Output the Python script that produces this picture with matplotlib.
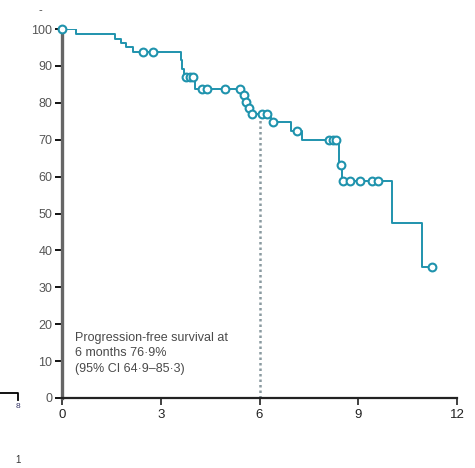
import numpy as np
import matplotlib
matplotlib.use("Agg")
import matplotlib.pyplot as plt
from matplotlib.lines import Line2D

plt.rcParams['font.family'] = ['Liberation Sans Narrow', 'Liberation Sans', 'DejaVu Sans']

# Kaplan-Meier step data (months, % progression-free)
event_times = [0, 0.43, 1.6, 1.8, 1.95, 2.15, 3.6, 3.66, 3.72, 4.05,
               5.5, 5.58, 5.66, 5.75, 6.35, 6.95, 7.3, 8.4, 8.5, 10.03, 10.94]
event_surv = [100, 98.6, 97.4, 96.2, 95.0, 93.8, 91.5, 89.2, 87.0, 83.7,
              82.0, 80.3, 78.6, 76.9, 74.8, 72.4, 69.9, 63.1, 58.8, 47.4, 35.5]
end_time = 11.3
censor_times = [0, 2.46, 2.77, 3.78, 3.88, 3.97, 4.25, 4.4, 4.95, 5.41,
                5.52, 5.6, 5.68, 5.78, 6.08, 6.23, 6.41, 7.14,
                8.12, 8.22, 8.32, 8.47, 8.55, 8.75, 9.06, 9.42, 9.6, 11.25]

x_ticks = [0, 3, 6, 9, 12]
y_ticks = [0, 10, 20, 30, 40, 50, 60, 70, 80, 90, 100]
landmark_time = 6
landmark_value = 76.9
annotation = "Progression-free survival at\n6 months 76·9%\n(95% CI 64·9–85·3)"

color = '#1f93ad'

fig = plt.figure(figsize=(4.75, 4.68), dpi=100)
ax = fig.add_axes([62/475, 70/468, (457-62)/475, (398-29)/468])

t_plot = list(event_times) + [end_time]
s_plot = list(event_surv) + [event_surv[-1]]
ax.step(t_plot, s_plot, where='post', color=color, lw=1.4, zorder=3)

idx = np.searchsorted(event_times, censor_times, side='right') - 1
censor_surv = [event_surv[i] for i in idx]
ax.plot(censor_times, censor_surv, 'o', ms=5.6, mfc='white', mec=color, mew=1.5,
        zorder=4, clip_on=False)

ax.plot([landmark_time, landmark_time], [0, landmark_value - 1.5], ls=(0, (1, 1.2)),
        color='#8a9aa0', lw=1.8, zorder=2)

ax.set_xlim(0, 12)
ax.set_ylim(0, 100)
ax.set_xticks(x_ticks)
ax.set_yticks(y_ticks)
ax.tick_params(axis='y', length=5, width=1.3, colors='black', labelcolor='#555555',
               labelsize=9, pad=2)
ax.tick_params(axis='x', length=5, width=1.3, colors='#333333', labelcolor='#222222',
               labelsize=9.5, pad=3)
for s in ['top', 'right']:
    ax.spines[s].set_visible(False)
ax.spines['left'].set_color('#666666')
ax.spines['left'].set_linewidth(2.4)
ax.spines['bottom'].set_color('#222222')
ax.spines['bottom'].set_linewidth(1.6)

ax.text(0.38, 18.0, annotation, fontsize=9, color='#4a4a4a', va='top', ha='left',
        linespacing=1.4)

# stray cropping artefacts
fig.add_artist(Line2D([0, 18/475, 18/475], [1-393/468, 1-393/468, 1-400/468],
                      color='black', lw=1.3))
fig.text(18/475, 1-407/468, '8', fontsize=6, ha='center', va='center', color='#333366')
fig.text(18/475, 1-460/468, '1', fontsize=7, ha='center', va='center', color='#333333')
fig.text(40/475, 1-10/468, '-', fontsize=8, ha='center', va='center', color='#444444')

fig.savefig('out.png', dpi=100)
